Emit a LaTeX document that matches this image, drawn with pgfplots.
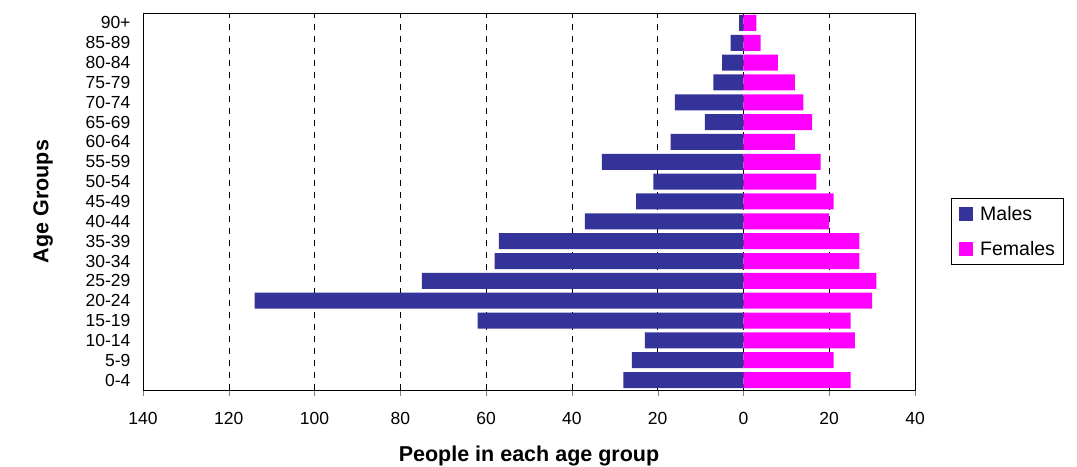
\documentclass[border=0pt]{standalone}
\usepackage{pgfplots}
\usepackage{pgfplotstable}
\pgfplotsset{compat=1.18}
\usepackage{fontspec}
\setmainfont{Liberation Sans}
\definecolor{males}{HTML}{333399}
\definecolor{females}{HTML}{FF00FF}

% idx: 0 = 0-4 ... 18 = 90+
\pgfplotstableread{
idx male female
0  -28 25
1  -26 21
2  -23 26
3  -62 25
4  -114 30
5  -75 31
6  -58 27
7  -57 27
8  -37 20
9  -25 21
10 -21 17
11 -33 18
12 -17 12
13 -9  16
14 -16 14
15 -7  12
16 -5  8
17 -3  4
18 -1  3
}\pyramid

\begin{document}
\begin{tikzpicture}
\begin{axis}[
    scale only axis,
    width=772pt, height=377pt,
    xbar, bar width=16pt, bar shift=0pt,
    xmin=-140, xmax=40,
    ymin=-0.5, ymax=18.5,
    xtick={-140,-120,...,40},
    xticklabels={140,120,100,80,60,40,20,0,20,40},
    ytick={0,...,18},
    yticklabels={0-4,5-9,10-14,15-19,20-24,25-29,30-34,35-39,40-44,45-49,50-54,55-59,60-64,65-69,70-74,75-79,80-84,85-89,90+},
    tick align=outside,
    xtick pos=lower,
    ytick style={draw=none},
    major tick length=6pt,
    xmajorgrids,
    grid style={black, dash pattern=on 6pt off 6pt},
    ticklabel style={font=\fontsize{17.5}{20}\selectfont},
    xticklabel style={yshift=-13pt},
    yticklabel style={xshift=-3pt},
    xlabel={People in each age group},
    ylabel={Age Groups},
    label style={font=\bfseries\fontsize{21.5}{24}\selectfont},
    xlabel style={yshift=-14pt},
    ylabel style={yshift=26pt},
    legend style={at={(1,0.5)}, anchor=west, xshift=36pt, yshift=-30pt,
        draw=black, font=\fontsize{19.5}{22}\selectfont,
        inner xsep=6pt, inner ysep=6pt, row sep=15pt},
    legend cell align=left,
    legend image code/.code={\path (0pt,0pt) (21pt,0pt);\fill[#1] (2pt,-7pt) rectangle (16pt,7pt);},
]
\addplot[draw=none, fill=males] table[x=male, y=idx] {\pyramid};
\addplot[draw=none, fill=females] table[x=female, y=idx] {\pyramid};
\legend{Males, Females}
\end{axis}
\pgfresetboundingbox
\path (current axis.south west) ++(-143pt,-77pt) rectangle ([xshift=162pt,yshift=13pt]current axis.north east);
\end{tikzpicture}
\end{document}
